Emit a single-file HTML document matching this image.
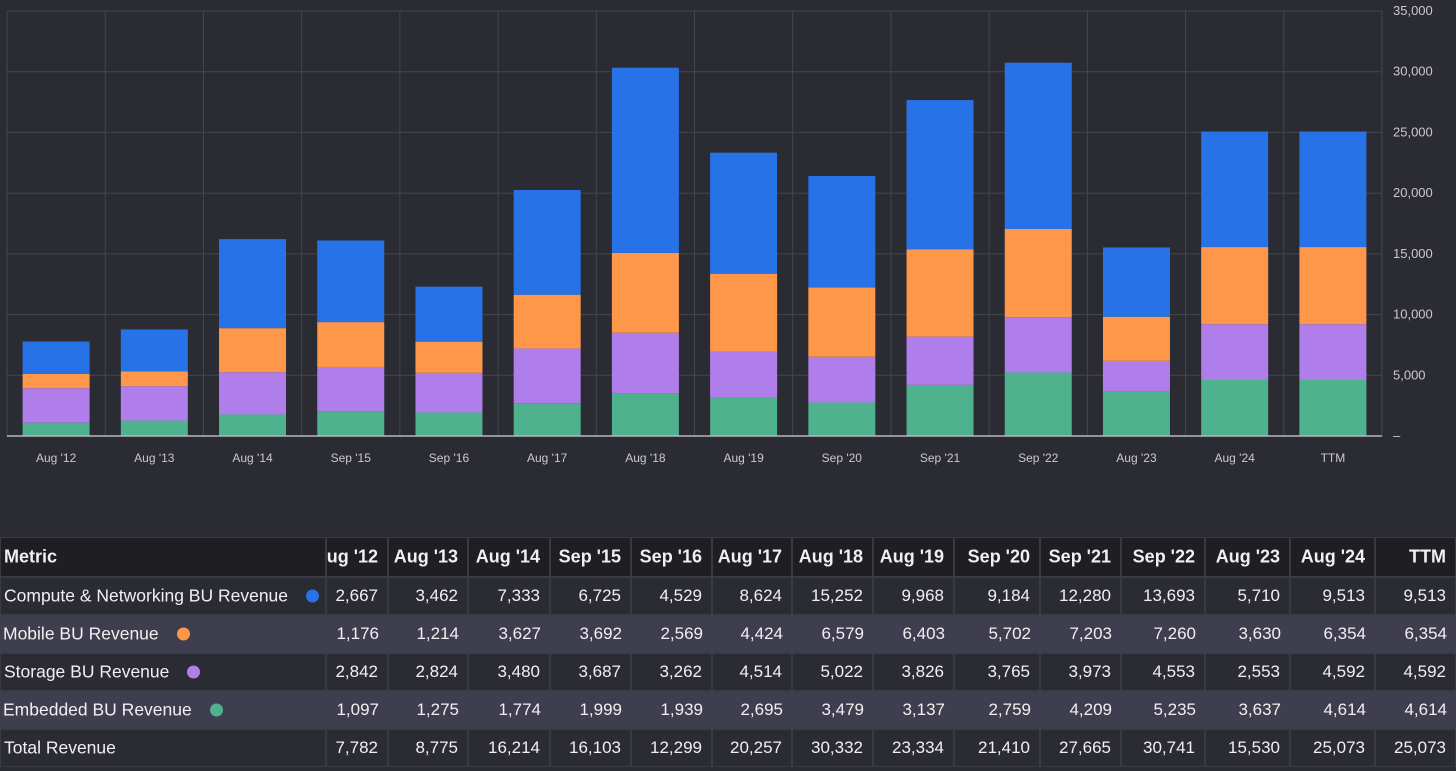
<!DOCTYPE html>
<html><head><meta charset="utf-8">
<style>
html,body{margin:0;padding:0;background:#2b2b33;width:1456px;height:771px;overflow:hidden;font-family:"Liberation Sans",sans-serif;}
#chart{position:absolute;left:0;top:0;}
#tbl{position:absolute;left:0;top:537px;width:1456px;height:232px;}
.cell{position:absolute;box-sizing:border-box;overflow:hidden;color:#f0f0f2;font-size:17px;white-space:nowrap;}
.cell span{position:absolute;right:9px;top:50%;transform:translateY(-50%);}
.cell.lbl{font-size:17.5px;}
.cell.lbl span{left:3px;right:auto;}
.hdr{background:#1e1e23;font-weight:bold;font-size:18px;}
.cell.lbl.hdr{font-size:18px;}
.dark{background:#2b2b33;}
.light{background:#3f3e4e;}
.dot{display:inline-block;width:13px;height:13px;border-radius:50%;margin-left:18px;vertical-align:-1px;}
</style></head><body>
<svg id="chart" width="1456" height="480"></svg>
<div id="tbl"></div>
<script>
const categories=["Aug '12","Aug '13","Aug '14","Sep '15","Sep '16","Aug '17","Aug '18","Aug '19","Sep '20","Sep '21","Sep '22","Aug '23","Aug '24","TTM"];
const compute=[2667,3462,7333,6725,4529,8624,15252,9968,9184,12280,13693,5710,9513,9513];
const mobile=[1176,1214,3627,3692,2569,4424,6579,6403,5702,7203,7260,3630,6354,6354];
const storage=[2842,2824,3480,3687,3262,4514,5022,3826,3765,3973,4553,2553,4592,4592];
const embedded=[1097,1275,1774,1999,1939,2695,3479,3137,2759,4209,5235,3637,4614,4614];
const totals=[7782,8775,16214,16103,12299,20257,30332,23334,21410,27665,30741,15530,25073,25073];
const yTicks=[0,5000,10000,15000,20000,25000,30000,35000];
const yTickLabels=["–","5,000","10,000","15,000","20,000","25,000","30,000","35,000"];

const NS="http://www.w3.org/2000/svg";
const svg=document.getElementById('chart');
const L=7,R=1382,T=11,B=436,YMAX=35000;
const band=(R-L)/categories.length;
const x=i=>L+band*i;
const y=v=>B-(v/YMAX)*(B-T);
function mk(tag,attrs){const e=document.createElementNS(NS,tag);for(const k in attrs)e.setAttribute(k,attrs[k]);svg.appendChild(e);return e;}
yTicks.forEach((t,i)=>{
  if(t>0){const g=mk('line',{x1:L,x2:R,y1:y(t),y2:y(t),stroke:'#46464f','stroke-width':1});
  
  }
  const tx=mk('text',{x:1393,y:y(t)+4,fill:'#c9c9ce','font-size':13,'font-family':'Liberation Sans, sans-serif'});
  tx.textContent=yTickLabels[i];
  
  
});
for(let i=0;i<=categories.length;i++){
  const v=mk('line',{x1:x(i),x2:x(i),y1:T,y2:B,stroke:'#46464f','stroke-width':1});
  
  
}
const series=[[embedded,'#4fb18d','embedded'],[storage,'#b07eea','storage'],[mobile,'#ff974a','mobile'],[compute,'#2872e8','compute']];
const bw=67;
categories.forEach((c,i)=>{
  let base=0;
  const cx=x(i)+band/2;
  series.forEach(([arr,col,nm])=>{
    const v=arr[i];
    const r=mk('rect',{x:cx-bw/2,y:y(base+v),width:bw,height:y(base)-y(base+v),fill:col});
    
    
    base+=v;
  });
  const t=mk('text',{x:cx,y:462,fill:'#c9c9ce','font-size':12,'text-anchor':'middle','font-family':'Liberation Sans, sans-serif'});
  t.textContent=c;
  
  
});
const ax=mk('line',{x1:L,x2:R,y1:B,y2:B,stroke:'#b8b8bf','stroke-width':1.5});



// table
const tbl=document.getElementById('tbl');
const bounds=[0,326,388,468,550,631,712,792,873,954,1040,1121,1205,1290,1375,1456];
const rows=[
 {label:'Metric',vals:categories,cls:'hdr',name:'header-row'},
 {label:'Compute & Networking BU Revenue',dot:'#2872e8',vals:compute,cls:'dark',name:'compute-row'},
 {label:'Mobile BU Revenue',dot:'#ff974a',vals:mobile,cls:'light',name:'mobile-row'},
 {label:'Storage BU Revenue',dot:'#b07eea',vals:storage,cls:'dark',name:'storage-row'},
 {label:'Embedded BU Revenue',dot:'#4fb18d',vals:embedded,cls:'light',name:'embedded-row'},
 {label:'Total Revenue',vals:totals,cls:'dark',name:'total-row'}
];
const rowTops=[0,40,78,116,154,192],rowH=[40,38,38,38,38,38];
const fmt=v=>typeof v==='number'?v.toLocaleString('en-US'):v;
rows.forEach((r,ri)=>{
  for(let c=0;c<bounds.length-1;c++){
    const d=document.createElement('div');
    d.className='cell '+r.cls+(c===0?' lbl':'');
    d.style.left=bounds[c]+'px';d.style.top=rowTops[ri]+'px';
    d.style.width=(bounds[c+1]-bounds[c])+'px';d.style.height=rowH[ri]+'px';
    if(r.cls!=='light')d.style.border='1px solid #3a3a44';
    const s=document.createElement('span');
    if(c===0){s.textContent=r.label;if(r.dot){const dt=document.createElement('i');dt.className='dot';dt.style.background=r.dot;s.appendChild(dt);}}
    else s.textContent=fmt(r.vals[c-1]);
    d.appendChild(s);
    
    
    tbl.appendChild(d);
  }
});
</script>
</body></html>
